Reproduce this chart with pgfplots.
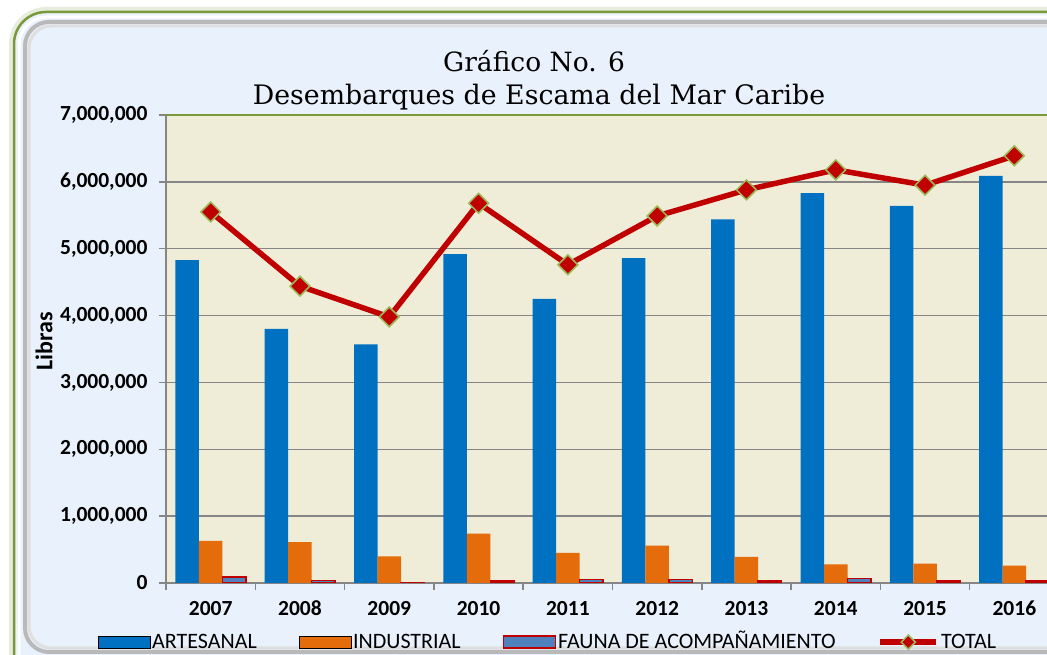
\documentclass[border=0pt]{standalone}
\usepackage{fontspec}
\setmainfont{Carlito}
\newfontfamily\titlefont{DejaVu Serif}
\usepackage{pgfplots}
\pgfplotsset{compat=1.18}
\definecolor{artblue}{HTML}{0070C0}
\definecolor{indorange}{HTML}{E46C0A}
\definecolor{faunablue}{HTML}{4F81BD}
\definecolor{totred}{HTML}{C00000}
\definecolor{olivegreen}{HTML}{9BBB59}
\definecolor{framegreen}{HTML}{7A9A3A}
\definecolor{bgblue}{HTML}{E8F1FC}
\definecolor{plotbg}{HTML}{EFECD8}
\definecolor{gridgray}{HTML}{868686}
\pgfplotsset{
  barlegend/.style={legend image code/.code={\draw[##1] (0pt,-8.5pt) rectangle (52pt,3.5pt);}},
  linelegend/.style={legend image code/.code={\draw[##1, mark size=5pt, mark repeat=2, mark phase=2] plot coordinates {(0pt,-2.5pt) (28pt,-2.5pt) (56pt,-2.5pt)};}},
}
\newcommand{\lph}{\vphantom{ÑÁ}}
\begin{document}
\begin{tikzpicture}[x=1pt,y=1pt]
\useasboundingbox (0,0) rectangle (1047,655);
\clip (0,0) rectangle (1047,655);
\fill[white] (0,0) rectangle (1047,655);
\draw[line width=10pt, framegreen!18, rounded corners=32] (14,-60) rectangle (1140,643);
\fill[bgblue, rounded corners=32] (14,-60) rectangle (1140,643);
\draw[framegreen, line width=2.5pt, rounded corners=32] (14,-60) rectangle (1140,643);
\draw[white, line width=3pt, rounded corners=28] (19,-60) rectangle (1140,638);
\draw[gray!55, line width=4pt, rounded corners=24] (25,3) rectangle (1140,633);
\draw[gray!25, line width=3pt, rounded corners=22] (29,7) rectangle (1140,629);
\node[anchor=base, font=\titlefont\fontsize{26.5}{30}\selectfont] at (534,583) {Gráfico No. 6};
\node[anchor=base, font=\titlefont\fontsize{26.8}{30}\selectfont] at (539,550) {Desembarques de Escama del Mar Caribe};
\begin{axis}[
  at={(166pt,72pt)}, anchor=south west,
  scale only axis, width=893pt, height=468pt,
  xmin=-0.5, xmax=9.5, ymin=0, ymax=7000000,
  axis background/.style={fill=plotbg},
  axis x line*=bottom, axis y line*=left,
  axis line style={gridgray, line width=1.5pt},
  ytick={0,1000000,2000000,3000000,4000000,5000000,6000000,7000000},
  ymajorgrids, major grid style={gridgray, line width=1.3pt},
  scaled y ticks=false,
  /pgf/number format/assume math mode=true,
  y tick label style={/pgf/number format/fixed, /pgf/number format/1000 sep={,}, xshift=-8pt},
  tick label style={font=\fontsize{21.5}{24}\selectfont\bfseries},
  x tick label style={text height=14pt, text depth=0pt, yshift=-8pt},
  xtick={0,...,9},
  xticklabels={2007,2008,2009,2010,2011,2012,2013,2014,2015,2016},
  minor xtick={-0.5,0.5,...,9.5},
  tick align=outside,
  major tick length=7pt, minor tick length=7pt,
  major x tick style={draw=none},
  minor x tick style={draw=gridgray, line width=1.5pt},
  y tick style={draw=gridgray, line width=1.5pt},
  ylabel={Libras},
  ylabel style={at={(axis description cs:-0.1366,0.517)}, anchor=center, font=\fontsize{24}{28}\selectfont\bfseries},
  legend columns=4,
  legend style={at={(axis description cs:-0.08,-0.121)}, anchor=west, draw=none, fill=none,
    font=\fontsize{22}{26}\selectfont,
    /tikz/every even column/.append style={column sep=40pt}},
  after end axis/.code={\draw[framegreen, line width=2pt] (rel axis cs:0,1) -- (rel axis cs:1,1);},
]
\addplot[ybar, bar width=23.5pt, bar shift=-23.5pt, fill=artblue, draw=none, barlegend]
  coordinates {(0,4830000) (1,3800000) (2,3570000) (3,4920000) (4,4250000) (5,4860000) (6,5440000) (7,5830000) (8,5640000) (9,6090000)};
\addlegendentry{\lph ARTESANAL}
\addplot[ybar, bar width=23.5pt, bar shift=0pt, fill=indorange, draw=none, barlegend]
  coordinates {(0,630000) (1,610000) (2,400000) (3,740000) (4,450000) (5,560000) (6,390000) (7,280000) (8,290000) (9,260000)};
\addlegendentry{\lph INDUSTRIAL}
\addplot[ybar, bar width=23.5pt, bar shift=23.5pt, fill=faunablue, draw=totred, line width=1.5pt, barlegend]
  coordinates {(0,90000) (1,40000) (2,10000) (3,30000) (4,55000) (5,55000) (6,30000) (7,70000) (8,30000) (9,30000)};
\addlegendentry{\lph FAUNA DE ACOMPAÑAMIENTO}
\addplot[totred, line width=5.5pt, mark=square*, mark size=7pt,
  mark options={fill=totred, draw=olivegreen, line width=1.5pt, rotate=45}, linelegend]
  coordinates {(0,5550000) (1,4440000) (2,3980000) (3,5680000) (4,4760000) (5,5490000) (6,5880000) (7,6180000) (8,5950000) (9,6390000)};
\addlegendentry{\lph TOTAL}
\end{axis}
\end{tikzpicture}
\end{document}
